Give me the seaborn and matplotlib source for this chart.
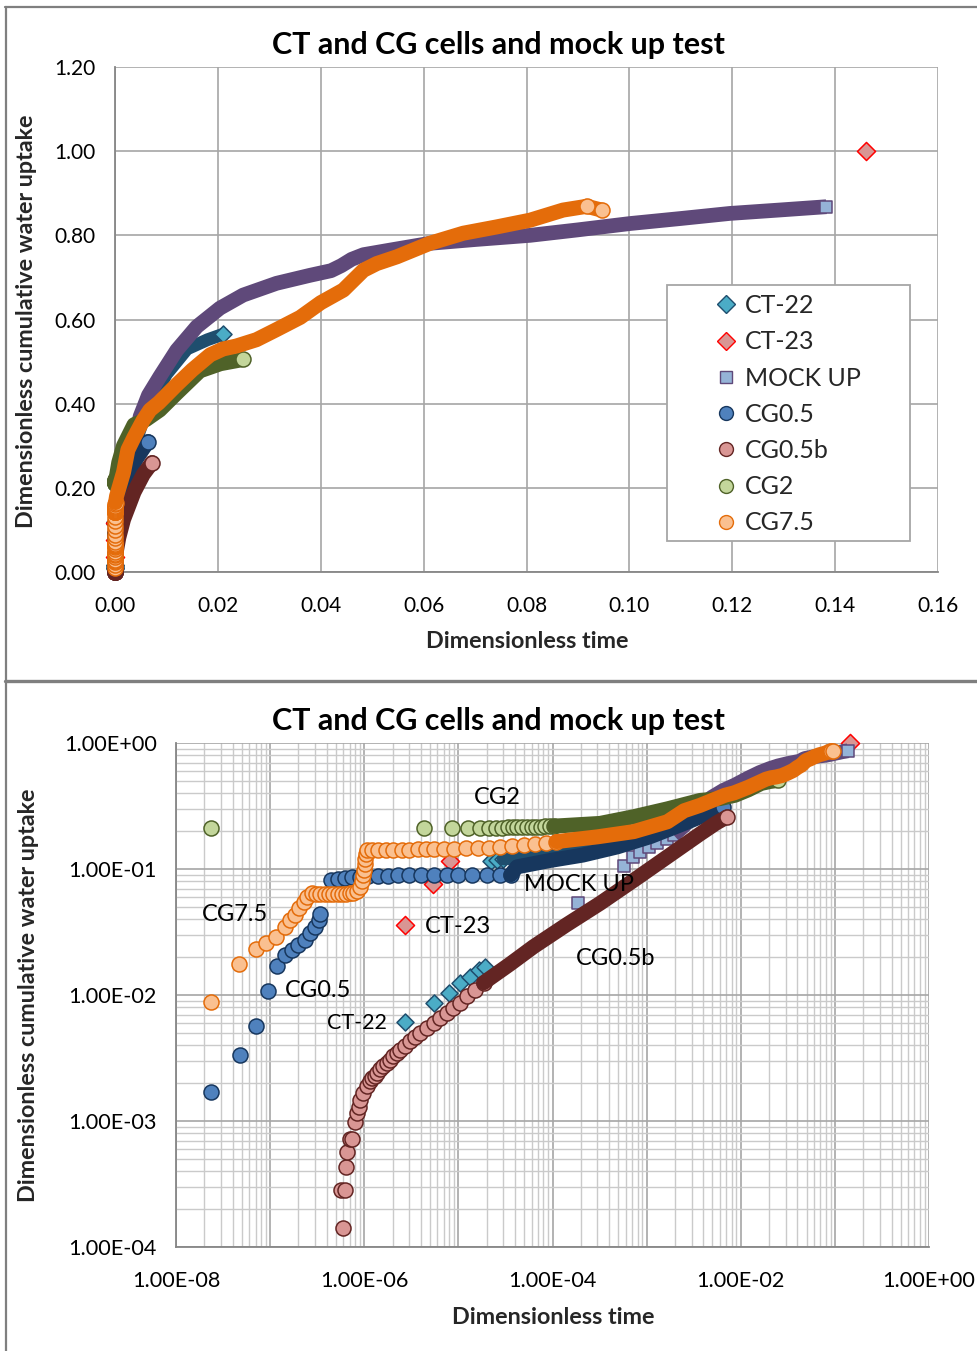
import numpy as np
import matplotlib
matplotlib.use("Agg")
import matplotlib.pyplot as plt
from matplotlib.lines import Line2D
from matplotlib.patches import Rectangle
from matplotlib.ticker import FixedLocator, FixedFormatter, FuncFormatter, LogLocator, NullFormatter
import seaborn as sns

sns.set_theme(style="white")
plt.rcParams["font.family"] = ["Lato", "DejaVu Sans"]

W, H = 977, 1351

# ---------------------------------------------------------------------------
# Readings: dimensionless time (t) and dimensionless cumulative uptake (w).
# *_pts : individually resolved readings, *_rec : dense logger record
# ---------------------------------------------------------------------------
ct22_t_pts = [2.73e-6, 5.46e-6, 7.9e-6, 1.05e-5, 1.34e-5, 1.64e-5, 1.94e-5, 2.2e-5, 2.6e-5, 3.0e-5]
ct22_w_pts = [0.0061, 0.0086, 0.0103, 0.0124, 0.0140, 0.0158, 0.0168, 0.115, 0.118, 0.120]
ct22_t_rec = [3.0e-5, 1.0e-4, 3.0e-4, 1.0e-3, 3.0e-3, 6.0e-3, 0.010, 0.014, 0.018, 0.021]
ct22_w_rec = [0.120, 0.130, 0.150, 0.190, 0.270, 0.380, 0.470, 0.530, 0.552, 0.565]

ct23_t_pts = [2.73e-6, 5.42e-6, 8.2e-6, 0.146]
ct23_w_pts = [0.036, 0.076, 0.116, 1.000]

mock_t_pts = [1.85e-4, 5.8e-4, 7.1e-4, 8.6e-4, 1.05e-3, 1.3e-3, 1.66e-3, 1.94e-3]
mock_w_pts = [0.0535, 0.105, 0.124, 0.137, 0.149, 0.161, 0.174, 0.186]
mock_t_rec = [1.94e-3, 2.5e-3, 3.2e-3, 4.0e-3, 4.9e-3, 6.5e-3, 8.7e-3, 0.0120, 0.0159, 0.0204,
              0.0249, 0.0314, 0.0379, 0.0420, 0.0440, 0.0460, 0.0483, 0.0535, 0.0612, 0.0700,
              0.0807, 0.0900, 0.1001, 0.1100, 0.1195, 0.1290, 0.1383]
mock_w_rec = [0.186, 0.220, 0.270, 0.320, 0.370, 0.420, 0.464, 0.527, 0.583, 0.627,
              0.658, 0.686, 0.705, 0.716, 0.728, 0.743, 0.754, 0.765, 0.781, 0.790,
              0.800, 0.813, 0.828, 0.840, 0.852, 0.860, 0.868]

cg05_t_pts = [2.34e-8, 4.83e-8, 7.15e-8, 9.44e-8, 1.18e-7, 1.44e-7, 1.70e-7, 2.0e-7, 2.36e-7,
              2.67e-7, 3.0e-7, 3.27e-7, 3.4e-7,
              4.4e-7, 5.2e-7, 6.2e-7, 7.5e-7, 9.0e-7, 1.1e-6, 1.4e-6, 1.8e-6, 2.3e-6, 3.0e-6,
              4.0e-6, 5.5e-6, 7.5e-6, 1.0e-5, 1.4e-5, 2.0e-5, 2.8e-5, 3.6e-5]
cg05_w_pts = [1.70e-3, 3.36e-3, 5.70e-3, 1.08e-2, 1.71e-2, 2.07e-2, 2.28e-2, 2.49e-2, 2.73e-2,
              3.10e-2, 3.48e-2, 3.94e-2, 4.40e-2,
              0.0818, 0.0835, 0.0848, 0.0858, 0.0866, 0.0872, 0.0879, 0.0885, 0.0889, 0.0892,
              0.0894, 0.0896, 0.0897, 0.0896, 0.0898, 0.0897, 0.0899, 0.0901]
cg05_t_rec = [3.6e-5, 4.2e-5, 9.5e-5, 2.1e-4, 4.9e-4, 1.1e-3, 2.5e-3, 4.2e-3, 6.4e-3]
cg05_w_rec = [0.090, 0.104, 0.117, 0.129, 0.150, 0.181, 0.230, 0.270, 0.310]

cg05b_t_pts = [6.0e-7, 5.7e-7, 6.2e-7, 6.4e-7, 6.5e-7, 7.1e-7, 7.4e-7, 8.0e-7, 8.4e-7, 8.7e-7,
               9.1e-7, 9.8e-7, 1.07e-6, 1.15e-6, 1.22e-6, 1.30e-6, 1.38e-6, 1.47e-6, 1.6e-6,
               1.73e-6, 1.88e-6, 2.04e-6, 2.22e-6, 2.42e-6, 2.7e-6, 3.1e-6, 3.5e-6, 3.9e-6,
               4.6e-6, 5.5e-6, 6.4e-6, 7.6e-6, 8.8e-6, 1.05e-5, 1.25e-5, 1.5e-5, 1.85e-5]
cg05b_w_pts = [1.41e-4, 2.83e-4, 2.83e-4, 4.29e-4, 5.71e-4, 7.15e-4, 7.15e-4, 9.9e-4, 1.15e-3,
               1.30e-3, 1.48e-3, 1.68e-3, 1.88e-3, 2.09e-3, 2.18e-3, 2.27e-3, 2.42e-3, 2.57e-3,
               2.72e-3, 2.87e-3, 3.06e-3, 3.26e-3, 3.45e-3, 3.64e-3, 3.95e-3, 4.32e-3, 4.65e-3,
               4.96e-3, 5.45e-3, 5.97e-3, 6.55e-3, 7.2e-3, 7.9e-3, 8.6e-3, 9.8e-3, 0.0110, 0.0125]
cg05b_t_rec = [1.85e-5, 3.5e-5, 6.3e-5, 1.4e-4, 3.2e-4, 7.4e-4, 1.66e-3, 3.7e-3, 5.5e-3, 7.2e-3]
cg05b_w_rec = [0.0125, 0.0175, 0.0242, 0.036, 0.0534, 0.082, 0.125, 0.190, 0.232, 0.260]

cg2_t_pts = [2.35e-8, 4.3e-6, 8.6e-6, 1.26e-5, 1.68e-5, 2.1e-5, 2.52e-5, 2.94e-5, 3.36e-5,
             3.78e-5, 4.2e-5, 4.7e-5, 5.3e-5, 6.0e-5, 6.7e-5, 7.5e-5, 8.4e-5, 9.4e-5, 1.05e-4]
cg2_w_pts = [0.211, 0.211, 0.211, 0.212, 0.212, 0.212, 0.213, 0.213, 0.214,
             0.214, 0.214, 0.215, 0.215, 0.216, 0.216, 0.217, 0.218, 0.218, 0.219]
cg2_t_rec = [1.05e-4, 3.2e-4, 7.3e-4, 1.66e-3, 3.7e-3, 6.0e-3, 8.7e-3, 0.0120, 0.0165, 0.0205, 0.0249]
cg2_w_rec = [0.219, 0.230, 0.260, 0.300, 0.350, 0.362, 0.385, 0.425, 0.478, 0.495, 0.505]

cg75_t_pts = [2.34e-8, 4.71e-8, 7.1e-8, 9.0e-8, 1.16e-7, 1.44e-7, 1.63e-7, 1.85e-7, 2.05e-7,
              2.3e-7, 2.45e-7, 2.77e-7,
              3.1e-7, 3.4e-7, 3.8e-7, 4.2e-7, 4.7e-7, 5.2e-7, 5.8e-7, 6.4e-7, 7.0e-7, 7.6e-7, 8.3e-7,
              9.1e-7, 9.35e-7, 9.6e-7, 9.85e-7, 1.01e-6, 1.03e-6, 1.05e-6, 1.07e-6,
              1.2e-6, 1.4e-6, 1.7e-6, 2.0e-6, 2.5e-6, 3.0e-6, 3.7e-6, 4.5e-6, 5.5e-6, 7.0e-6,
              9.0e-6, 1.2e-5, 1.6e-5, 2.1e-5, 2.8e-5, 3.7e-5, 5.0e-5, 6.5e-5, 8.5e-5, 1.1e-4]
cg75_w_pts = [0.00885, 0.0175, 0.0230, 0.0260, 0.0290, 0.0348, 0.0394, 0.0431, 0.0487,
              0.0550, 0.0603, 0.0641,
              0.0635, 0.0632, 0.0630, 0.0628, 0.0630, 0.0632, 0.0635, 0.0638, 0.0642, 0.0648, 0.0665,
              0.0724, 0.0800, 0.0890, 0.0990, 0.1100, 0.1210, 0.1310, 0.1415,
              0.1415, 0.1418, 0.1420, 0.1422, 0.1425, 0.1428, 0.1432, 0.1436, 0.1440, 0.1445,
              0.1450, 0.1458, 0.1465, 0.1475, 0.1490, 0.1510, 0.1540, 0.1570, 0.1610, 0.1650]
cg75_t_rec = [1.1e-4, 3.0e-4, 7.3e-4, 1.66e-3, 2.5e-3, 3.7e-3, 5.5e-3, 6.8e-3, 8.5e-3, 0.0120,
              0.0150, 0.0185, 0.0210, 0.0236, 0.0275, 0.0314, 0.0360, 0.0400, 0.0444, 0.0483,
              0.0509, 0.0548, 0.0612, 0.0677, 0.0742, 0.0807, 0.0871, 0.0917, 0.0946]
cg75_w_rec = [0.165, 0.180, 0.198, 0.237, 0.290, 0.320, 0.361, 0.385, 0.402, 0.445,
              0.480, 0.516, 0.530, 0.537, 0.552, 0.576, 0.605, 0.640, 0.670, 0.717,
              0.733, 0.749, 0.781, 0.805, 0.820, 0.836, 0.860, 0.869, 0.860]

# Axis ticks and labels
lin_xticks = [0.00, 0.02, 0.04, 0.06, 0.08, 0.10, 0.12, 0.14, 0.16]
lin_yticks = [0.00, 0.20, 0.40, 0.60, 0.80, 1.00, 1.20]
log_xticks = [1e-8, 1e-7, 1e-6, 1e-5, 1e-4, 1e-3, 1e-2, 1e-1, 1e0]
log_xlabels = ["1.00E-08", "", "1.00E-06", "", "1.00E-04", "", "1.00E-02", "", "1.00E+00"]
log_yticks = [1e-4, 1e-3, 1e-2, 1e-1, 1e0]
log_ylabels = ["1.00E-04", "1.00E-03", "1.00E-02", "1.00E-01", "1.00E+00"]

TITLE = "CT and CG cells and mock up test"

# Series styles, in drawing (and legend) order
series = [
    dict(name="CT-22", t_pts=ct22_t_pts, w_pts=ct22_w_pts, t_rec=ct22_t_rec, w_rec=ct22_w_rec,
         marker="D", size=75, face="#4BACC6", edge="#1F4E6E", band=9.2, cap="round", n_end=1),
    dict(name="CT-23", t_pts=ct23_t_pts, w_pts=ct23_w_pts, t_rec=[], w_rec=[],
         marker="D", size=85, face="#D99694", edge="#FF0000", band=9.2, cap="round", n_end=1),
    dict(name="MOCK UP", t_pts=mock_t_pts, w_pts=mock_w_pts, t_rec=mock_t_rec, w_rec=mock_w_rec,
         marker="s", size=80, face="#95B3D7", edge="#5F497A", band=10.6, cap="butt", n_end=1),
    dict(name="CG0.5", t_pts=cg05_t_pts, w_pts=cg05_w_pts, t_rec=cg05_t_rec, w_rec=cg05_w_rec,
         marker="o", size=117, face="#4F81BD", edge="#17375E", band=10.8, cap="round", n_end=1),
    dict(name="CG0.5b", t_pts=cg05b_t_pts, w_pts=cg05b_w_pts, t_rec=cg05b_t_rec, w_rec=cg05b_w_rec,
         marker="o", size=117, face="#D99694", edge="#632523", band=10.8, cap="round", n_end=1),
    dict(name="CG2", t_pts=cg2_t_pts, w_pts=cg2_w_pts, t_rec=cg2_t_rec, w_rec=cg2_w_rec,
         marker="o", size=117, face="#C3D69B", edge="#4F6228", band=10.8, cap="round", n_end=1),
    dict(name="CG7.5", t_pts=cg75_t_pts, w_pts=cg75_w_pts, t_rec=cg75_t_rec, w_rec=cg75_w_rec,
         marker="o", size=117, face="#FAC090", edge="#E46C0A", band=10.8, cap="round", n_end=2),
]


def fx(x):
    return x / W


def fy(y):
    return 1 - y / H


def draw_series(ax, s, z):
    if len(s["t_pts"]):
        sns.scatterplot(x=s["t_pts"], y=s["w_pts"], ax=ax, marker=s["marker"], s=s["size"],
                        color=s["face"], edgecolor=s["edge"], linewidth=1.1, legend=False,
                        clip_on=False, zorder=z)
    if len(s["t_rec"]):
        sns.lineplot(x=s["t_rec"], y=s["w_rec"], ax=ax, sort=False, estimator=None,
                     color=s["edge"], linewidth=s["band"], solid_capstyle=s["cap"],
                     solid_joinstyle="round", legend=False, clip_on=False, zorder=z + 0.1)
        n = s["n_end"]
        sns.scatterplot(x=s["t_rec"][-n:], y=s["w_rec"][-n:], ax=ax, marker=s["marker"],
                        s=s["size"], color=s["face"], edgecolor=s["edge"], linewidth=1.1,
                        legend=False, clip_on=False, zorder=z + 0.2)


fig = plt.figure(figsize=(W / 100, H / 100), dpi=100)
fig.patch.set_facecolor("white")

ax_lin = fig.add_axes([fx(115), fy(572), 823 / W, 505 / H])
ax_log = fig.add_axes([fx(176), fy(1247), 753 / W, 504 / H])
ax_log.set_xscale("log")
ax_log.set_yscale("log")

for ax in (ax_lin, ax_log):
    ax.set_facecolor("white")
    for side in ("top", "right"):
        ax.spines[side].set_visible(False)
    for side in ("left", "bottom"):
        ax.spines[side].set_color("#868686")
        ax.spines[side].set_linewidth(1.3)
    ax.set_axisbelow(True)
    for i, s in enumerate(series):
        draw_series(ax, s, 3 + i)
    ax.set_xlabel("")
    ax.set_ylabel("")

# ---- linear panel ----
ax_lin.set_xlim(0, 0.16)
ax_lin.set_ylim(0, 1.2)
ax_lin.xaxis.set_major_locator(FixedLocator(lin_xticks))
ax_lin.yaxis.set_major_locator(FixedLocator(lin_yticks))
ax_lin.xaxis.set_major_formatter(FuncFormatter(lambda v, _: f"{v:.2f}"))
ax_lin.yaxis.set_major_formatter(FuncFormatter(lambda v, _: f"{v:.2f}"))
ax_lin.grid(True, which="major", color="#A6A6A6", linewidth=1.2)
ax_lin.tick_params(axis="both", which="major", direction="out", length=5, width=1.3,
                   color="#868686", labelsize=15, labelcolor="black")
ax_lin.tick_params(axis="x", pad=12)
ax_lin.tick_params(axis="y", pad=9)

# ---- log panel ----
ax_log.set_xlim(1e-8, 1e0)
ax_log.set_ylim(1e-4, 1e0)
ax_log.xaxis.set_major_locator(FixedLocator(log_xticks))
ax_log.xaxis.set_major_formatter(FixedFormatter(log_xlabels))
ax_log.yaxis.set_major_locator(FixedLocator(log_yticks))
ax_log.yaxis.set_major_formatter(FixedFormatter(log_ylabels))
ax_log.xaxis.set_minor_locator(LogLocator(base=10, subs=np.arange(2, 10), numticks=50))
ax_log.yaxis.set_minor_locator(LogLocator(base=10, subs=np.arange(2, 10), numticks=50))
ax_log.xaxis.set_minor_formatter(NullFormatter())
ax_log.yaxis.set_minor_formatter(NullFormatter())
ax_log.grid(True, which="major", color="#A6A6A6", linewidth=1.2)
ax_log.grid(True, which="minor", color="#CACACA", linewidth=1.0)
ax_log.tick_params(axis="both", which="major", direction="out", length=5, width=1.3,
                   color="#868686", labelsize=15.6, labelcolor="black")
ax_log.tick_params(axis="both", which="minor", length=0)
ax_log.tick_params(axis="x", pad=12)
ax_log.tick_params(axis="y", pad=9)

# series labels on the log panel
lbl_kw = dict(transform=ax_log.transAxes, fontsize=17, color="black", zorder=20)
ax_log.text(0.4263, 0.8909, "CG2", ha="center", va="center", **lbl_kw)
ax_log.text(0.0784, 0.6607, "CG7.5", ha="center", va="center", **lbl_kw)
ax_log.text(0.3307, 0.6369, "CT-23", ha="left", va="center", **lbl_kw)
ax_log.text(0.1448, 0.5099, "CG0.5", ha="left", va="center", **lbl_kw)
ax_log.text(0.2005, 0.4444, "CT-22", ha="left", va="center",
            **{**lbl_kw, "fontsize": 15.5})
ax_log.text(0.4622, 0.7202, "MOCK UP", ha="left", va="center", **lbl_kw)
ax_log.text(0.5312, 0.5734, "CG0.5b", ha="left", va="center", **lbl_kw)

# legend box and entries (linear panel)
ax_lin.add_patch(Rectangle((fx(667), fy(541)), 243 / W, 256 / H, transform=fig.transFigure,
                           facecolor="white", edgecolor="#A6A6A6", linewidth=1.3,
                           clip_on=False, zorder=30))
handles = [Line2D([], [], linestyle="none", marker=s["marker"],
                  markersize=(10 if s["marker"] == "o" else 9),
                  markerfacecolor=s["face"], markeredgecolor=s["edge"], markeredgewidth=1.0)
           for s in series]
leg = ax_lin.legend(handles, [s["name"] for s in series], loc="upper left",
                    bbox_to_anchor=(fx(709), fy(289)), bbox_transform=fig.transFigure,
                    frameon=False, fontsize=18, handlelength=0.95, handletextpad=0.3,
                    labelspacing=0.53, borderpad=0.2, borderaxespad=0)
leg.set_zorder(31)

# titles and axis titles
for ty in (45, 721):
    fig.text(fx(498), fy(ty), TITLE, ha="center", va="center", fontsize=22,
             fontweight="bold", color="black")
fig.text(fx(527), fy(641), "Dimensionless time", ha="center", va="center",
         fontsize=16.8, fontweight="bold")
fig.text(fx(553), fy(1317), "Dimensionless time", ha="center", va="center",
         fontsize=16.8, fontweight="bold")
fig.text(fx(27), fy(321), "Dimensionless cumulative water uptake", ha="center", va="center",
         rotation=90, fontsize=16.8, fontweight="bold")
fig.text(fx(29), fy(995), "Dimensionless cumulative water uptake", ha="center", va="center",
         rotation=90, fontsize=16.8, fontweight="bold")

# outer panel frames
frame_kw = dict(transform=fig.transFigure, color="#7F7F7F")
fig.add_artist(Line2D([fx(5), 1], [fy(7), fy(7)], linewidth=1.6, **frame_kw))
fig.add_artist(Line2D([fx(6), fx(6)], [0, fy(7)], linewidth=1.6, **frame_kw))
fig.add_artist(Line2D([fx(5), 1], [fy(681), fy(681)], linewidth=2.4, **frame_kw))

fig.savefig("out.png", dpi=100, facecolor="white")
